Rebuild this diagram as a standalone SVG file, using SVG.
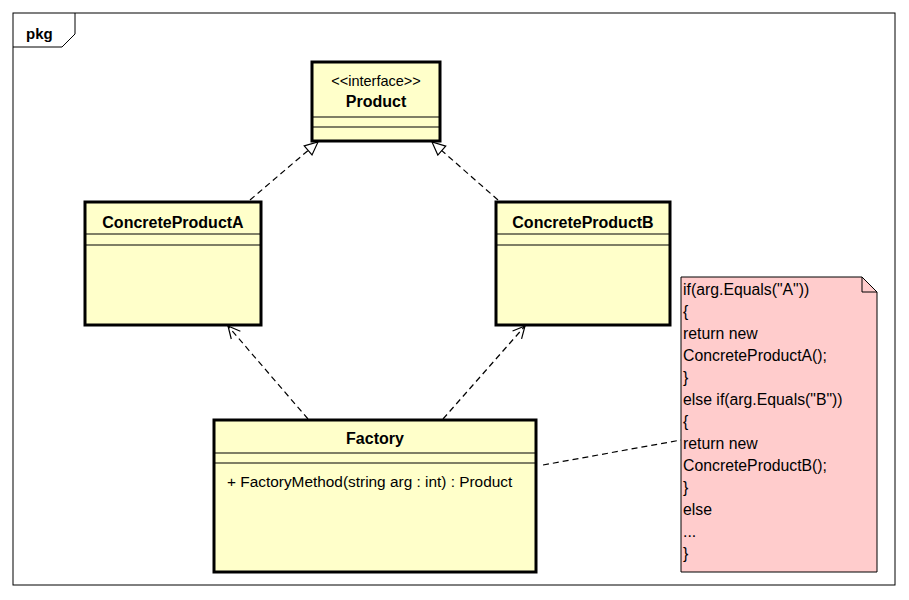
<svg xmlns="http://www.w3.org/2000/svg" width="909" height="600" viewBox="0 0 909 600">
<defs>
<style>
.cls{fill:#FFFFCA;stroke:#000;stroke-width:3}
.sep{stroke:#000;stroke-width:1.2}
.name{font-family:"Liberation Sans",Arial,sans-serif;font-weight:bold;font-size:16px;text-anchor:middle}
.ster{font-family:"Liberation Sans",Arial,sans-serif;font-size:14.5px;text-anchor:middle}
.txt{font-family:"Liberation Sans",Arial,sans-serif;font-size:15.4px}
.note{font-family:"Liberation Sans",Arial,sans-serif;font-size:15.8px}
.dash{fill:none;stroke:#000;stroke-width:1.2;stroke-dasharray:6,4}
</style>
<marker id="tri" markerWidth="16" markerHeight="16" refX="14" refY="7" orient="auto" markerUnits="userSpaceOnUse">
<path d="M1,1 L14,7 L1,13 Z" fill="#fff" stroke="#000" stroke-width="1.2"/>
</marker>
<marker id="open" markerWidth="16" markerHeight="16" refX="13" refY="7" orient="auto" markerUnits="userSpaceOnUse">
<path d="M1,1 L13,7 L1,13" fill="none" stroke="#000" stroke-width="1.2"/>
</marker>
</defs>
<rect width="909" height="600" fill="#fff"/>
<g id="frame">
<rect x="13" y="13" width="882" height="572" fill="none" stroke="#000" stroke-width="1"/>
<path d="M13,47 L62,47 L75,34 L75,13" fill="none" stroke="#000" stroke-width="1"/>
<text x="26" y="39" font-family="Liberation Sans,Arial,sans-serif" font-weight="bold" font-size="15">pkg</text>
</g>
<g id="connectors">
<line class="dash" x1="250" y1="200" x2="318" y2="142" marker-end="url(#tri)"/>
<line class="dash" x1="498" y1="200" x2="432" y2="142" marker-end="url(#tri)"/>
<line class="dash" x1="308" y1="419" x2="228" y2="326" marker-end="url(#open)"/>
<line class="dash" x1="443" y1="419" x2="525" y2="326" marker-end="url(#open)"/>
<line class="dash" x1="543" y1="465" x2="681" y2="440"/>
</g>
<g id="Product">
<rect class="cls" x="312" y="62" width="128" height="79"/>
<text class="ster" x="376" y="86">&lt;&lt;interface&gt;&gt;</text>
<text class="name" x="376" y="107">Product</text>
<line class="sep" x1="312" y1="117" x2="440" y2="117"/>
<line class="sep" x1="312" y1="127" x2="440" y2="127"/>
</g>
<g id="ConcreteProductA">
<rect class="cls" x="85" y="202" width="176" height="123"/>
<text class="name" x="173" y="228">ConcreteProductA</text>
<line class="sep" x1="85" y1="234" x2="261" y2="234"/>
<line class="sep" x1="85" y1="245" x2="261" y2="245"/>
</g>
<g id="ConcreteProductB">
<rect class="cls" x="496" y="202" width="174" height="123"/>
<text class="name" x="583" y="228">ConcreteProductB</text>
<line class="sep" x1="496" y1="234" x2="670" y2="234"/>
<line class="sep" x1="496" y1="245" x2="670" y2="245"/>
</g>
<g id="Factory">
<rect class="cls" x="214" y="420" width="322" height="152"/>
<text class="name" x="375" y="444">Factory</text>
<line class="sep" x1="214" y1="453" x2="536" y2="453"/>
<line class="sep" x1="214" y1="463" x2="536" y2="463"/>
<text class="txt" x="227" y="487">+ FactoryMethod(string arg : int) : Product</text>
</g>
<g id="Note">
<path d="M681,277 L862,277 L877,292 L877,572 L681,572 Z" fill="#FFCCCC" stroke="#000" stroke-width="1"/>
<path d="M862,277 L862,292 L877,292" fill="none" stroke="#000" stroke-width="1"/>
<g class="note">
<text x="683" y="295">if(arg.Equals("A"))</text>
<text x="683" y="317">{</text>
<text x="683" y="339">return new</text>
<text x="683" y="361">ConcreteProductA();</text>
<text x="683" y="383">}</text>
<text x="683" y="405">else if(arg.Equals("B"))</text>
<text x="683" y="427">{</text>
<text x="683" y="449">return new</text>
<text x="683" y="471">ConcreteProductB();</text>
<text x="683" y="493">}</text>
<text x="683" y="515">else</text>
<text x="683" y="537">...</text>
<text x="683" y="559">}</text>
</g>
</g>
</svg>
